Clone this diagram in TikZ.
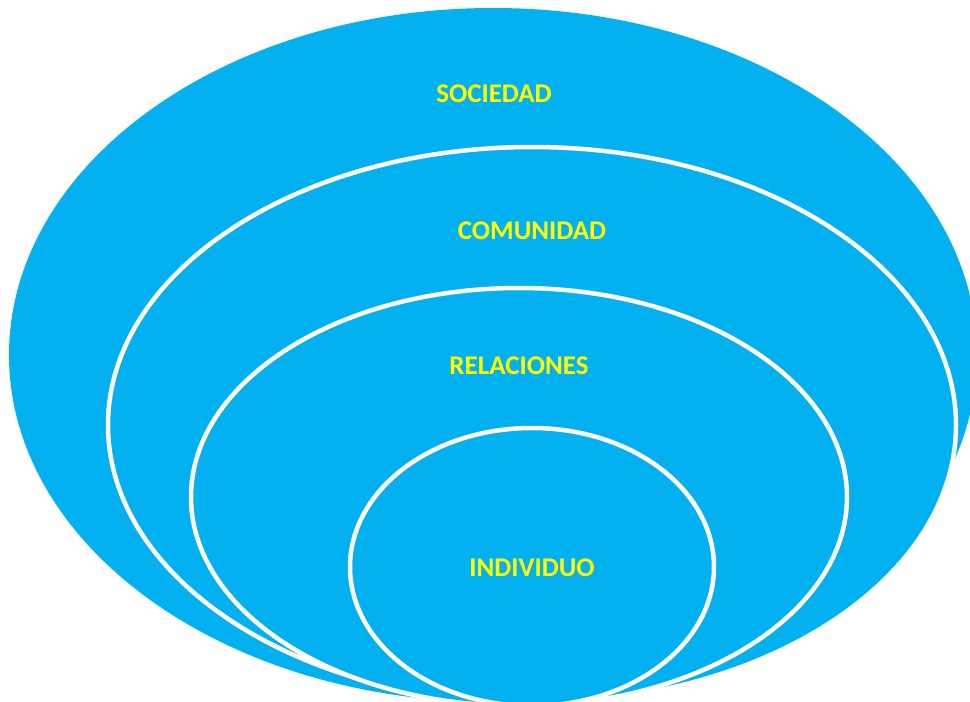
\documentclass[tikz,border=0pt]{standalone}
\usepackage{fontspec}
\setmainfont{Carlito}
\definecolor{skyfill}{HTML}{03B0F0}
\definecolor{labelyellow}{HTML}{FFFF00}
\tikzset{
  ring/.style={fill=skyfill, draw=white, line width=4.5pt},
  outerring/.style={fill=skyfill},
  lbl/.style={text=labelyellow, font=\fontsize{27}{32}\selectfont\bfseries, inner sep=0pt}
}
\begin{document}
\begin{tikzpicture}[x=1pt,y=-1pt]
\useasboundingbox (0,0) rectangle (970,702);
\clip (0,0) rectangle (970,702);
\fill[white] (0,0) rectangle (970,702);
\path[outerring] (493,355) ellipse [x radius=484, y radius=347];
\path[ring] (532,425) ellipse [x radius=424, y radius=278];
\path[ring] (519,497) ellipse [x radius=328, y radius=209];
\path[ring] (532,567) ellipse [x radius=182, y radius=139];
\node[lbl] (soc) at (494,94) {SOCIEDAD};
\node[lbl] (com) at (532,231) {COMUNIDAD};
\node[lbl] (rel) at (519,366) {RELACIONES};
\node[lbl] (ind) at (532,568) {INDIVIDUO};
\end{tikzpicture}
\end{document}
